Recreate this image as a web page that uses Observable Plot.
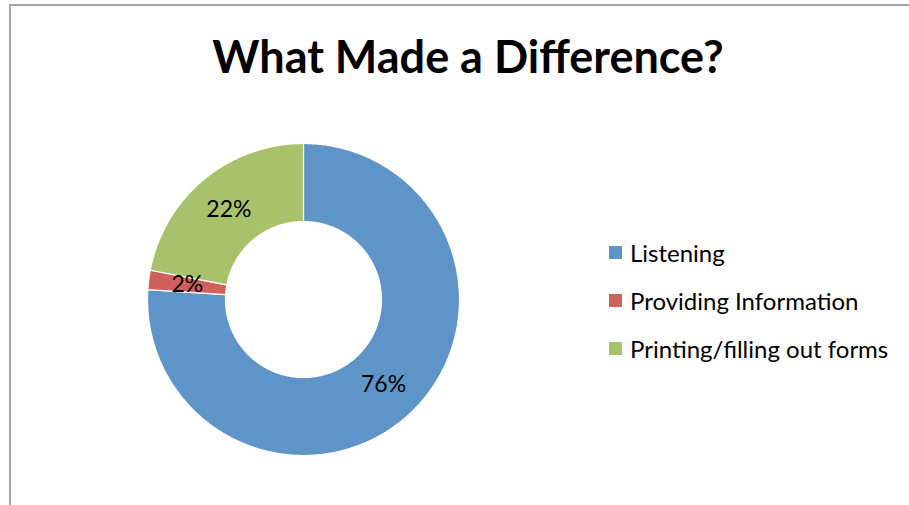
<!DOCTYPE html>
<html>
<head>
<meta charset="utf-8">
<script src="https://cdn.jsdelivr.net/npm/d3@7"></script>
<script src="https://cdn.jsdelivr.net/npm/@observablehq/plot@0.6"></script>
<style>
  html, body { margin: 0; padding: 0; background: #fff; }
  #wrap { position: relative; width: 909px; height: 505px; overflow: hidden; font-family: Lato, "Open Sans", sans-serif; }
  #frame { position: absolute; left: 9px; top: 4px; width: 1000px; height: 600px; border-top: 2px solid #a6a6a6; border-left: 2px solid #a6a6a6; }
  #title { position: absolute; left: 0; top: 29px; width: 936px; text-align: center; font-weight: bold; font-size: 45px; color: #000; }
  #chart { position: absolute; left: 0; top: 0; }
  #legend { position: absolute; left: 609px; top: 228px; font-size: 24px; color: #000; }
  .item { display: flex; align-items: center; height: 48px; }
  .sw { width: 13px; height: 13px; margin-right: 8px; }
</style>
</head>
<body>
<div id="wrap">
  <div id="frame"></div>
  <div id="chart"></div>
  <div id="title">What Made a Difference?</div>
  <div id="legend"></div>
</div>
<script>
const categories = ["Listening", "Providing Information", "Printing/filling out forms"];
const values = [76, 2, 22];
const colors = ["#5f94c8", "#cf605b", "#a7c26b"];
const labels = ["76%", "2%", "22%"];

const innerRatio = 0.5;
const data = categories.map((c, i) => ({category: c, value: values[i], label: labels[i]}));
const arcs = d3.pie().sort(null).value(d => d.value)(data);

// polygon points for each slice, in unit-circle data space (angle clockwise from top)
const pts = [];
arcs.forEach(a => {
  const n = Math.max(4, Math.ceil((a.endAngle - a.startAngle) / 0.01));
  const outer = d3.range(n + 1).map(k => a.startAngle + (a.endAngle - a.startAngle) * k / n);
  outer.forEach(t => pts.push({category: a.data.category, x: Math.sin(t), y: Math.cos(t)}));
  outer.slice().reverse().forEach(t => pts.push({category: a.data.category, x: innerRatio * Math.sin(t), y: innerRatio * Math.cos(t)}));
  pts.push({category: a.data.category, x: Math.sin(a.startAngle), y: Math.cos(a.startAngle)});
});
const labelPts = arcs.map(a => {
  const m = (a.startAngle + a.endAngle) / 2, r = (1 + innerRatio) / 2;
  return {label: a.data.label, x: r * Math.sin(m), y: r * Math.cos(m)};
});

const plot = Plot.plot({
  width: 909,
  height: 505,
  marginLeft: 147,
  marginRight: 450,
  marginTop: 143,
  marginBottom: 50,
  x: {domain: [-1, 1], axis: null},
  y: {domain: [-1, 1], axis: null},
  color: {domain: categories, range: colors},
  style: {background: "transparent", fontFamily: "Lato, 'Open Sans', sans-serif"},
  marks: [
    Plot.line(pts, {x: "x", y: "y", z: "category", fill: "category", stroke: "white", strokeWidth: 1.2, strokeLinejoin: "round", curve: "linear-closed"}),
    Plot.text(labelPts, {x: "x", y: "y", text: "label", fontSize: 23, fill: "#000"})
  ]
});
document.getElementById("chart").appendChild(plot);

const legend = document.getElementById("legend");
categories.forEach((c, i) => {
  const row = document.createElement("div");
  row.className = "item";
  const sw = document.createElement("div");
  sw.className = "sw";
  sw.style.background = colors[i];
  const tx = document.createElement("span");
  tx.textContent = c;
  row.appendChild(sw); row.appendChild(tx);
  legend.appendChild(row);
});
</script>
</body>
</html>
